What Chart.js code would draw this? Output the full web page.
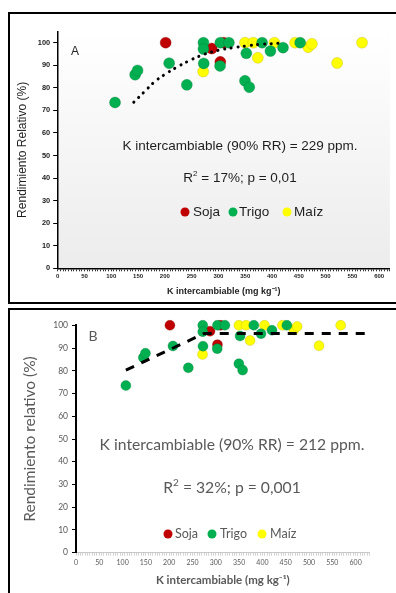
<!DOCTYPE html>
<html>
<head>
<meta charset="utf-8">
<script src="https://cdn.jsdelivr.net/npm/chart.js@4/dist/chart.umd.min.js"></script>
<style>
  body { margin: 0; width: 396px; height: 593px; overflow: hidden; background: #fff; position: relative; }
  canvas { position: absolute; left: 0; }
  #chartA { top: 0; }
  #chartB { top: 309px; }
  .frame { position: absolute; border: 2px solid #000; box-sizing: border-box; z-index: 5; }
  #frameA { left: 8px; top: 12px; width: 400px; height: 292px; }
  #frameB { left: 8px; top: 308px; width: 400px; height: 300px; }
  .note { position: absolute; white-space: nowrap; line-height: 1; transform: translate(-50%, -50%); z-index: 6; }
  .a { font-family: "Liberation Sans", Arial, sans-serif; color: #1e1e1e; }
  .b { font-family: Lato, "Open Sans", sans-serif; color: #595959; }
  .dot { position: absolute; border-radius: 50%; transform: translate(-50%, -50%); z-index: 6; }
  .leg { position: absolute; white-space: nowrap; line-height: 1; transform: translateY(-50%); z-index: 6; }
</style>
</head>
<body>
<canvas id="chartA" width="396" height="303"></canvas>
<canvas id="chartB" width="396" height="284"></canvas>
<div class="frame" id="frameA"></div>
<div class="frame" id="frameB"></div>

<div class="note a" style="left:75px; top:51px; font-size:12px;">A</div>
<div class="note a" style="left:240px; top:146px; font-size:13.5px;">K intercambiable (90% RR) = 229 ppm.</div>
<div class="note a" style="left:240px; top:177px; font-size:13.5px;">R<sup style="font-size:8px; vertical-align:6px;">2</sup> = 17%; p = 0,01</div>
<div class="dot" style="left:185px; top:212px; width:9px; height:9px; background:#c00000;"></div>
<div class="leg a" style="left:193px; top:212px; font-size:13.5px;">Soja</div>
<div class="dot" style="left:233px; top:212px; width:9px; height:9px; background:#00b050;"></div>
<div class="leg a" style="left:239px; top:212px; font-size:13.5px;">Trigo</div>
<div class="dot" style="left:287px; top:212px; width:9px; height:9px; background:#ffff00;"></div>
<div class="leg a" style="left:294px; top:212px; font-size:13.5px;">Maíz</div>

<div class="note b" style="left:232px; top:336px; font-size:14px; left:93px;">B</div>
<div class="note b" style="left:232px; top:445px; font-size:15.7px;">K intercambiable (90% RR) = 212 ppm.</div>
<div class="note b" style="left:232px; top:486px; font-size:15.7px;">R<sup style="font-size:10px; vertical-align:7px;">2</sup> = 32%; p = 0,001</div>
<div class="dot" style="left:168px; top:534px; width:9px; height:9px; background:#c00000;"></div>
<div class="leg b" style="left:175px; top:534px; font-size:12.5px;">Soja</div>
<div class="dot" style="left:212px; top:534px; width:9px; height:9px; background:#00b050;"></div>
<div class="leg b" style="left:220px; top:534px; font-size:12.5px;">Trigo</div>
<div class="dot" style="left:262px; top:534px; width:9px; height:9px; background:#ffff00;"></div>
<div class="leg b" style="left:270px; top:534px; font-size:12.5px;">Maíz</div>

<script>
// K intercambiable (mg/kg) and rendimiento relativo (%) per crop
const sojaX = [201.5, 287.5, 303.5, 310];
const sojaY = [100, 97.4, 91.5, 100];
const trigoX = [107, 144.5, 149, 208, 241, 272, 272, 272.5, 303, 303.5, 319.5, 352, 349.5, 357.5, 381.5, 397, 420.5, 452.5];
const trigoY = [73.5, 85.8, 87.7, 90.9, 81.3, 100, 97.2, 90.8, 89.7, 100, 100, 95.3, 83.1, 80.3, 100, 96.3, 97.8, 100];
const maizX = [271.5, 349.5, 365, 373.5, 404.5, 443, 467.5, 474.5, 521.5, 568];
const maizY = [87.2, 100, 100, 93.3, 100, 100, 98, 99.5, 91, 100];

// fitted curves
const curveAX = [142, 162, 181, 201, 225, 249, 274, 301, 327, 353, 380, 420];
const curveAY = [73.6, 78.3, 82.7, 86.1, 89.5, 92.4, 94.9, 96.7, 97.8, 98.6, 99.3, 99.8];
const curveBX = [107, 275, 630];
const curveBY = [80.3, 96.4, 96.4];

const RED = '#c00000', GREEN = '#00b050', YELLOW = '#ffff00';

function pts(xs, ys) {
    return xs.map((x, i) => ({ x: x, y: ys[i] }));
}

const plotBg = {
    id: 'plotBg',
    beforeDraw(chart) {
        const a = chart.chartArea;
        const ctx = chart.ctx;
        const g = ctx.createLinearGradient(0, a.top, 0, a.bottom);
        g.addColorStop(0, '#ffffff');
        g.addColorStop(1, '#ececec');
        ctx.save();
        ctx.fillStyle = g;
        ctx.fillRect(a.left, a.top, a.right - a.left, a.bottom - a.top);
        ctx.restore();
    }
};

function crops(r) {
    return [
        { label: 'Trigo', data: pts(trigoX, trigoY), backgroundColor: GREEN, borderColor: 'rgba(0,110,50,0.5)', borderWidth: 0.6, pointRadius: r, order: 1, clip: false },
        { label: 'Soja', data: pts(sojaX, sojaY), backgroundColor: RED, borderColor: 'rgba(120,0,0,0.5)', borderWidth: 0.6, pointRadius: r, order: 2, clip: false },
        { label: 'Maíz', data: pts(maizX, maizY), backgroundColor: YELLOW, borderColor: 'rgba(170,160,0,0.5)', borderWidth: 0.6, pointRadius: r, order: 3, clip: false }
    ];
}

const fontA = '"Liberation Sans", Arial, sans-serif';
const fontB = 'Lato, "Open Sans", sans-serif';

new Chart(document.getElementById('chartA'), {
    type: 'scatter',
    data: {
        datasets: crops(5.5).concat([{
            type: 'line', label: 'ajuste', data: pts(curveAX, curveAY),
            borderColor: '#000', borderWidth: 3, borderDash: [0.1, 6.6], borderCapStyle: 'round',
            pointRadius: 0, tension: 0.4, fill: false, order: 0
        }])
    },
    options: {
        responsive: false,
        animation: false,
        layout: { padding: { top: 31.4, right: 1, bottom: 0, left: 0 } },
        plugins: { legend: { display: false }, tooltip: { enabled: false } },
        scales: {
            x: {
                type: 'linear', min: 0, max: 620,
                afterFit(s) { s.height = 34.7; },
                ticks: {
                    stepSize: 5, autoSkip: false, maxRotation: 0, padding: 1,
                    color: '#222', font: { family: fontA, size: 6, weight: 'bold' },
                    callback: v => v % 50 === 0 ? v : ''
                },
                grid: { drawOnChartArea: false, tickLength: 3, tickColor: '#000', tickWidth: 0.8 },
                border: { color: '#000', width: 1.5 },
                title: {
                    display: true, text: 'K intercambiable (mg kg⁻¹)', color: '#1e1e1e',
                    font: { family: fontA, size: 9, weight: 'bold' }, padding: { top: 0, bottom: 5.6 }
                }
            },
            y: {
                min: 0, max: 105,
                afterFit(s) { s.width = 57.7; },
                ticks: {
                    stepSize: 10, padding: 3, color: '#222',
                    font: { family: fontA, size: 7.4, weight: 'bold' },
                    callback: v => v % 10 === 0 ? v : null
                },
                grid: { drawOnChartArea: false, tickLength: 4.5, tickColor: '#000' },
                border: { color: '#000', width: 1.5 },
                title: {
                    display: true, text: 'Rendimiento Relativo (%)', color: '#1e1e1e',
                    font: { family: fontA, size: 12 }, padding: { top: 15, bottom: 0 }
                }
            }
        }
    },
    plugins: [plotBg]
});

new Chart(document.getElementById('chartB'), {
    type: 'scatter',
    data: {
        datasets: crops(5).concat([{
            type: 'line', label: 'ajuste', data: pts(curveBX, curveBY),
            borderColor: '#000', borderWidth: 3, borderDash: [9, 8],
            pointRadius: 0, tension: 0, fill: false, order: 0, clip: false
        }])
    },
    options: {
        responsive: false,
        animation: false,
        layout: { padding: { top: 16.3, right: 26.4, bottom: 0, left: 0 } },
        plugins: { legend: { display: false }, tooltip: { enabled: false } },
        scales: {
            x: {
                type: 'linear', min: 0, max: 630,
                afterFit(s) { s.height = 40.3; },
                ticks: {
                    stepSize: 5, autoSkip: false, maxRotation: 0, padding: 3,
                    color: '#595959', font: { family: fontB, size: 7 },
                    callback: v => v % 50 === 0 ? v : ''
                },
                grid: { drawOnChartArea: false, tickLength: 3, tickColor: '#c8c8c8', tickWidth: 0.8 },
                border: { color: '#c8c8c8', width: 1 },
                title: {
                    display: true, text: 'K intercambiable (mg kg⁻¹)', color: '#595959',
                    font: { family: fontB, size: 11.5, weight: 'bold' }, padding: { top: 0, bottom: 5.8 }
                }
            },
            y: {
                min: 0, max: 100,
                afterFit(s) { s.width = 76; },
                ticks: {
                    stepSize: 10, padding: 4, color: '#595959',
                    font: { family: fontB, size: 8.5 }
                },
                grid: { drawOnChartArea: false, tickLength: 4, tickColor: '#000' },
                border: { color: '#000', width: 2 },
                title: {
                    display: true, text: 'Rendimiento relativo (%)', color: '#595959',
                    font: { family: fontB, size: 15.5 }, padding: { top: 20.4, bottom: 0 }
                }
            }
        }
    }
});
</script>
</body>
</html>
